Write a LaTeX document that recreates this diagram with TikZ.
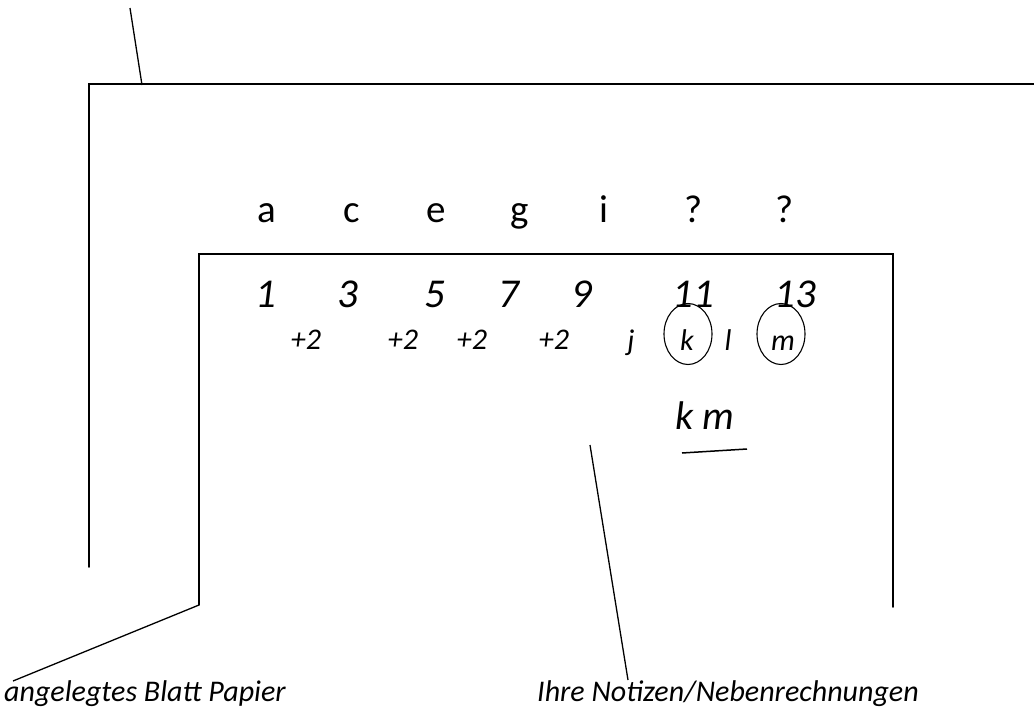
\documentclass[tikz,border=0pt]{standalone}
\usepackage{fontspec}
\setmainfont{Carlito}
\usetikzlibrary{shapes.geometric}
\begin{document}
\begin{tikzpicture}[x=1pt,y=-1pt,
  edge/.style={line width=1.5pt,line cap=round,line join=miter},
  lead/.style={line width=1.3pt},
  letter/.style={inner sep=0pt,font=\fontsize{39}{39}\selectfont,anchor=base},
  num/.style={inner sep=0pt,font=\fontsize{41}{41}\selectfont\itshape,anchor=base},
  small/.style={inner sep=0pt,font=\fontsize{30}{30}\selectfont\itshape,anchor=base},
  caption/.style={inner sep=0pt,font=\fontsize{30}{30}\selectfont\itshape,anchor=base west},
  ring/.style={draw,ellipse,line width=1.1pt,minimum width=48pt,minimum height=61pt,inner sep=0pt}]
\useasboundingbox (0,0) rectangle (1034,712);

% outer sheet (task booklet)
\coordinate (oBL) at (89,567);
\coordinate (oTL) at (89,84);
\coordinate (oTR) at (1034,84);
\draw[edge] (oBL) -- (oTL) -- (oTR);
\coordinate (topEnd) at (130,8);
\coordinate (topHit) at (142,85);
\draw[lead] (topEnd) -- (topHit);

% inner sheet (laid-on paper)
\coordinate (iBL) at (199,605);
\coordinate (iTL) at (199,254);
\coordinate (iTR) at (893,254);
\coordinate (iBR) at (893,607);
\draw[edge] (iBL) -- (iTL) -- (iTR) -- (iBR);

% letter sequence
\node[letter] (la) at (267,222) {a};
\node[letter] (lc) at (352,222) {c};
\node[letter] (le) at (436,222) {e};
\node[letter] (lg) at (520,222) {g};
\node[letter] (li) at (604,222) {i};
\node[letter] (lq1) at (694,222) {?};
\node[letter] (lq2) at (785,222) {?};

% positions in the alphabet
\node[num] (n1) at (266,307) {1};
\node[num] (n3) at (348,307) {3};
\node[num] (n5) at (435,307) {5};
\node[num] (n7) at (509,307) {7};
\node[num] (n9) at (582,307) {9};
\node[num] (n11) at (693,307) {11};
\node[num] (n13) at (795,307) {13};

% differences and intermediate letters
\node[small] (d1) at (306,349) {+2};
\node[small] (d2) at (403,349) {+2};
\node[small] (d3) at (472,349) {+2};
\node[small] (d4) at (554,349) {+2};
\node[small] (sj) at (631,350) {j};
\node[small] (sk) at (687,350) {k};
\node[small] (sl) at (728,350) {l};
\node[small] (sm) at (783,350) {m};
\node[ring] (ck) at (688,334) {};
\node[ring] (cm) at (781,334) {};

% result
\node[inner sep=0pt,font=\fontsize{40}{40}\selectfont\itshape,anchor=base] (res) at (705,429) {k m};
\coordinate (uL) at (682,453);
\coordinate (uR) at (747,449);
\draw[line width=1.5pt] (uL) -- (uR);

% captions
\node[caption] (capA) at (4,701) {angelegtes Blatt Papier};
\node[caption] (capB) at (537,701) {Ihre Notizen/Nebenrechnungen};
\coordinate (aEnd) at (13,681);
\draw[lead] (iBL) -- (aEnd);
\coordinate (bTop) at (590,445);
\coordinate (bEnd) at (628,680);
\draw[lead] (bTop) -- (bEnd);
\end{tikzpicture}
\end{document}
